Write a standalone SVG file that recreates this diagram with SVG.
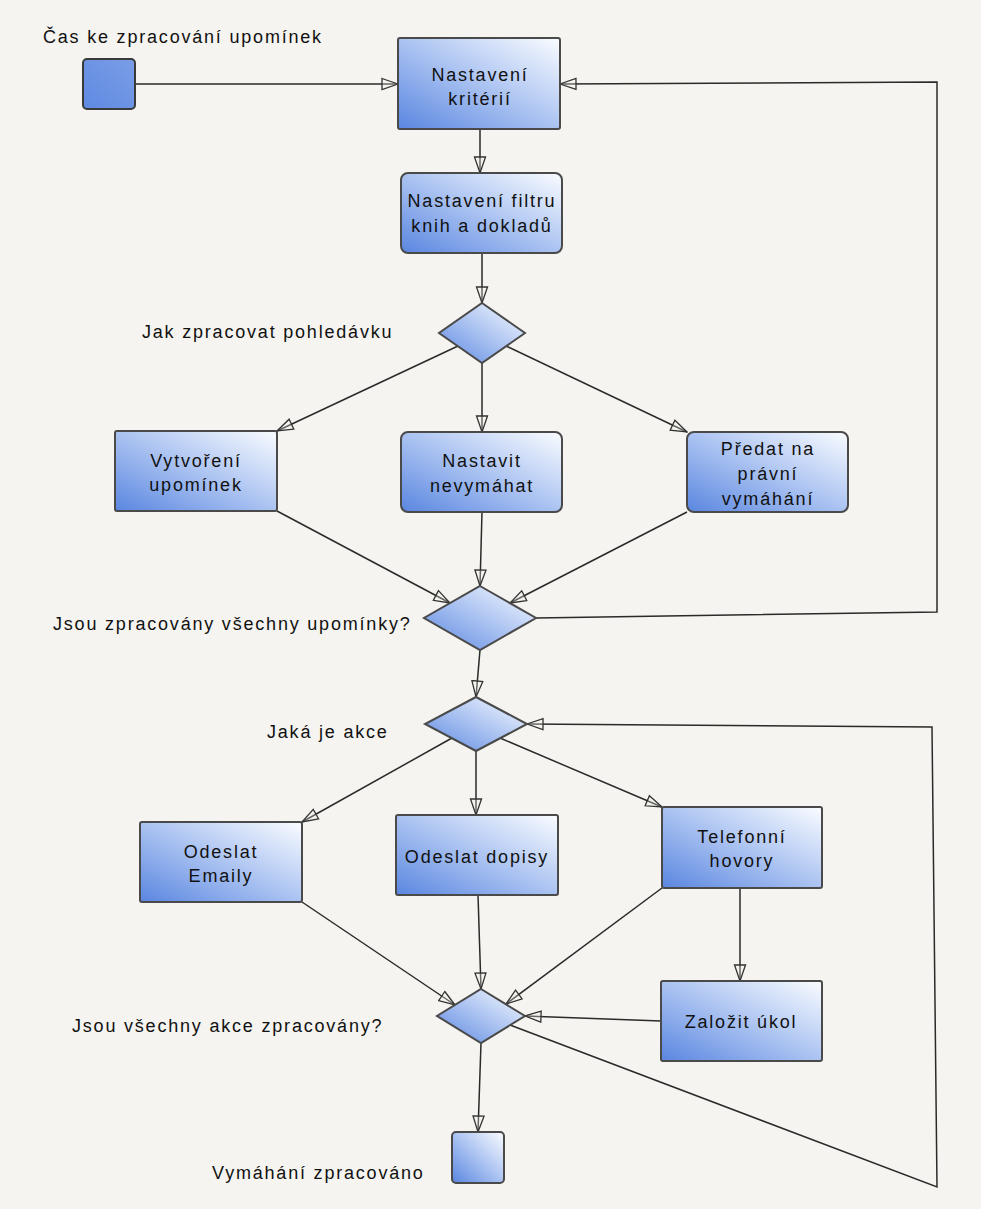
<svg xmlns="http://www.w3.org/2000/svg" width="981" height="1209" viewBox="0 0 981 1209">
<defs>
<linearGradient id="g" x1="0" y1="1" x2="1" y2="0">
<stop offset="0" stop-color="#5a86e0"/>
<stop offset="0.55" stop-color="#b3c9f3"/>
<stop offset="1" stop-color="#fafcff"/>
</linearGradient>
<linearGradient id="gs" x1="0" y1="1" x2="1" y2="0">
<stop offset="0" stop-color="#5f8ae2"/>
<stop offset="1" stop-color="#7a9de6"/>
</linearGradient>
<marker id="ah" markerUnits="userSpaceOnUse" markerWidth="18" markerHeight="14" refX="17" refY="7" orient="auto">
<path d="M1,1.5 L17,7 L1,12.5 Z" fill="#f5f4f0" fill-opacity="0.3" stroke="#333" stroke-width="1.3"/>
</marker>
</defs>
<style>
.n{fill:url(#g);stroke:#4a4a4a;stroke-width:2}
.t{font-family:"Liberation Sans",Arial,sans-serif;font-size:18px;letter-spacing:1.8px;fill:#111}
.c{text-anchor:middle}
.e{fill:none;stroke:#2a2a2a;stroke-width:1.5;marker-end:url(#ah)}
</style>
<rect x="0" y="0" width="981" height="1209" fill="#f5f4f0"/>
<g id="connectors">
<path class="e" d="M135,84 L398,84"/>
<path class="e" d="M480,129 L480,173"/>
<path class="e" d="M482,253 L482,303"/>
<path class="e" d="M458,346 L277,431"/>
<path class="e" d="M482,363 L482,432"/>
<path class="e" d="M506,346 L687,432"/>
<path class="e" d="M277,511 L450,603"/>
<path class="e" d="M482,512 L480,586"/>
<path class="e" d="M687,512 L510,603"/>
<path class="e" d="M536,618 L937,612 L937,82 L560,84"/>
<path class="e" d="M480,650 L476,697"/>
<path class="e" d="M452,738 L302,822"/>
<path class="e" d="M476,751 L476,815"/>
<path class="e" d="M500,738 L662,807"/>
<path class="e" d="M302,902 L455,1005"/>
<path class="e" d="M478,895 L481,989"/>
<path class="e" d="M662,888 L506,1004"/>
<path class="e" d="M740,888 L740,981"/>
<path class="e" d="M661,1021 L525,1016"/>
<path class="e" d="M481,1043 L478,1132"/>
<path class="e" d="M510,1025 L937,1187 L932,727 L527,724"/>
</g>
<g id="start">
<rect x="83" y="59" width="52" height="50" rx="4" fill="url(#gs)" stroke="#3a3a3a" stroke-width="2"/>
<text class="t" x="43" y="43">Čas ke zpracování upomínek</text>
</g>
<g id="n1">
<rect class="n" x="398" y="38" width="162" height="91" rx="2"/>
<text class="t c" x="480" y="81">Nastavení</text>
<text class="t c" x="480" y="105">kritérií</text>
</g>
<g id="n2">
<rect class="n" x="401" y="173" width="161" height="80" rx="7"/>
<text class="t c" x="482" y="207">Nastavení filtru</text>
<text class="t c" x="482" y="232">knih a dokladů</text>
</g>
<g id="d1">
<path class="n" d="M482,303 L525,333 L482,363 L439,333 Z"/>
<text class="t" x="142" y="338">Jak zpracovat pohledávku</text>
</g>
<g id="n3">
<rect class="n" x="115" y="431" width="162" height="80" rx="2"/>
<text class="t c" x="196" y="467">Vytvoření</text>
<text class="t c" x="196" y="491">upomínek</text>
</g>
<g id="n4">
<rect class="n" x="401" y="432" width="161" height="80" rx="7"/>
<text class="t c" x="482" y="467">Nastavit</text>
<text class="t c" x="482" y="492">nevymáhat</text>
</g>
<g id="n5">
<rect class="n" x="687" y="432" width="161" height="80" rx="7"/>
<text class="t c" x="768" y="455">Předat na</text>
<text class="t c" x="768" y="480">právní</text>
<text class="t c" x="768" y="505">vymáhání</text>
</g>
<g id="d2">
<path class="n" d="M480,586 L536,618 L480,650 L424,618 Z"/>
<text class="t" x="53" y="630">Jsou zpracovány všechny upomínky?</text>
</g>
<g id="d3">
<path class="n" d="M476,697 L527,724 L476,751 L425,724 Z"/>
<text class="t" x="267" y="738">Jaká je akce</text>
</g>
<g id="n6">
<rect class="n" x="140" y="822" width="162" height="80" rx="2"/>
<text class="t c" x="221" y="858">Odeslat</text>
<text class="t c" x="221" y="882">Emaily</text>
</g>
<g id="n7">
<rect class="n" x="396" y="815" width="162" height="80" rx="2"/>
<text class="t c" x="477" y="863">Odeslat dopisy</text>
</g>
<g id="n8">
<rect class="n" x="662" y="807" width="160" height="81" rx="2"/>
<text class="t c" x="742" y="843">Telefonní</text>
<text class="t c" x="742" y="867">hovory</text>
</g>
<g id="n9">
<rect class="n" x="661" y="981" width="161" height="80" rx="2"/>
<text class="t c" x="741" y="1028">Založit úkol</text>
</g>
<g id="d4">
<path class="n" d="M481,989 L525,1016 L481,1043 L437,1016 Z"/>
<text class="t" x="72" y="1032">Jsou všechny akce zpracovány?</text>
</g>
<g id="end">
<rect class="n" x="452" y="1132" width="52" height="51" rx="4"/>
<text class="t" x="212" y="1179">Vymáhání zpracováno</text>
</g>
</svg>
